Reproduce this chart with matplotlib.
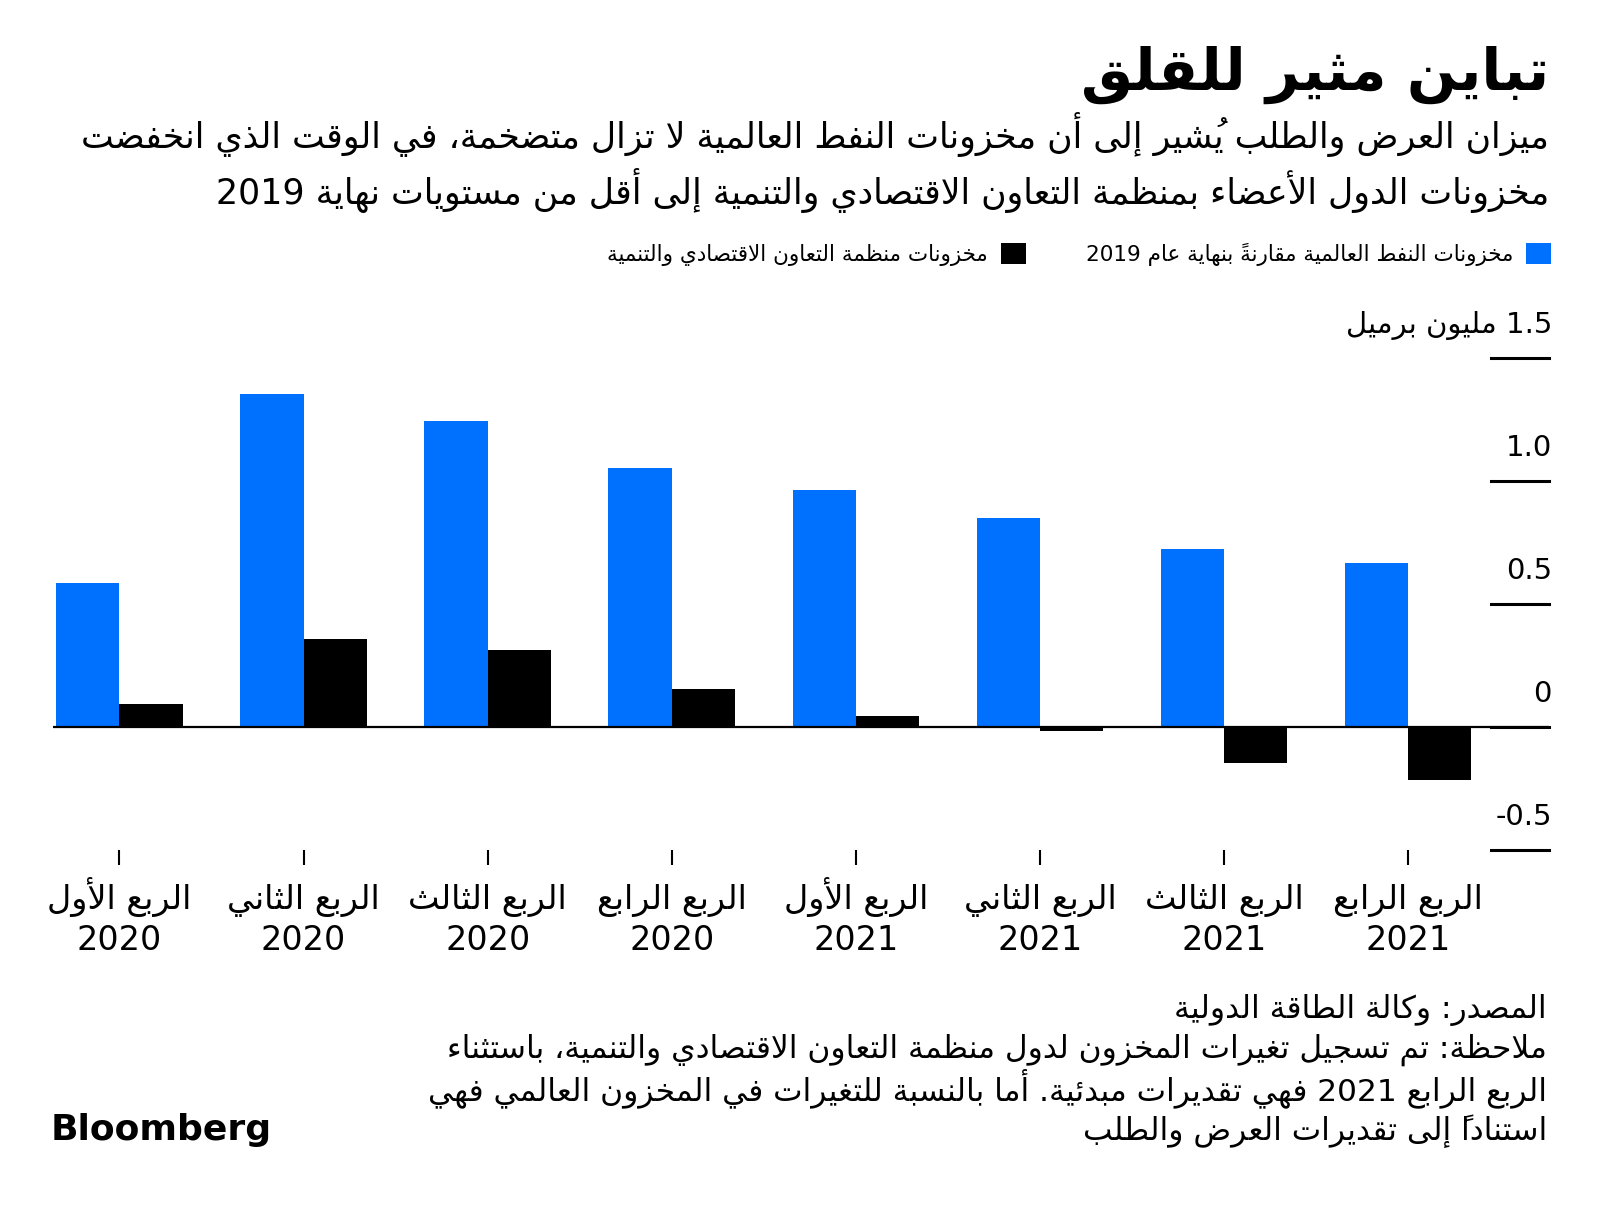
import matplotlib
matplotlib.use("Agg")
import matplotlib.pyplot as plt
import matplotlib.transforms as mtransforms

# ---- data (million barrels) ----
quarters = ["الربع الأول", "الربع الثاني", "الربع الثالث", "الربع الرابع",
            "الربع الأول", "الربع الثاني", "الربع الثالث", "الربع الرابع"]
years = ["2020", "2020", "2020", "2020", "2021", "2021", "2021", "2021"]
global_stocks = [0.585, 1.353, 1.245, 1.054, 0.963, 0.851, 0.722, 0.668]
oecd_stocks = [0.095, 0.357, 0.311, 0.154, 0.046, -0.017, -0.145, -0.216]
ytick_values = [-0.5, 0, 0.5, 1.0, 1.5]
ytick_labels = ["-0.5", "0", "0.5", "1.0", "1.5"]

title = "تباين مثير للقلق"
subtitle = ["ميزان العرض والطلب يُشير إلى أن مخزونات النفط العالمية لا تزال متضخمة، في الوقت الذي انخفضت",
            "مخزونات الدول الأعضاء بمنظمة التعاون الاقتصادي والتنمية إلى أقل من مستويات نهاية 2019"]
legend_global = "مخزونات النفط العالمية مقارنةً بنهاية عام 2019"
legend_oecd = "مخزونات منظمة التعاون الاقتصادي والتنمية"
unit_label = "1.5 مليون برميل"
notes = ["المصدر: وكالة الطاقة الدولية",
         "ملاحظة: تم تسجيل تغيرات المخزون لدول منظمة التعاون الاقتصادي والتنمية، باستثناء",
         "الربع الرابع 2021 فهي تقديرات مبدئية. أما بالنسبة للتغيرات في المخزون العالمي فهي",
         "استناداً إلى تقديرات العرض والطلب"]

BLUE = "#0070ff"

# ---- minimal arabic shaping + right-to-left ordering (matplotlib has none) ----
DUAL = {0x0626: 0xFE89, 0x0628: 0xFE8F, 0x062A: 0xFE95, 0x062B: 0xFE99, 0x062C: 0xFE9D,
        0x062D: 0xFEA1, 0x062E: 0xFEA5, 0x0633: 0xFEB1, 0x0634: 0xFEB5, 0x0635: 0xFEB9,
        0x0636: 0xFEBD, 0x0637: 0xFEC1, 0x0638: 0xFEC5, 0x0639: 0xFEC9, 0x063A: 0xFECD,
        0x0641: 0xFED1, 0x0642: 0xFED5, 0x0643: 0xFED9, 0x0644: 0xFEDD, 0x0645: 0xFEE1,
        0x0646: 0xFEE5, 0x0647: 0xFEE9, 0x064A: 0xFEF1}
RIGHT = {0x0622: 0xFE81, 0x0623: 0xFE83, 0x0624: 0xFE85, 0x0625: 0xFE87, 0x0627: 0xFE8D,
         0x0629: 0xFE93, 0x062F: 0xFEA9, 0x0630: 0xFEAB, 0x0631: 0xFEAD, 0x0632: 0xFEAF,
         0x0648: 0xFEED, 0x0649: 0xFEEF}
LAMALEF = {0x0622: 0xFEF5, 0x0623: 0xFEF7, 0x0625: 0xFEF9, 0x0627: 0xFEFB}


def is_mark(c):
    return 0x064B <= c <= 0x0652 or c == 0x0670


def ar_line(s):
    cps = [ord(ch) for ch in s]
    n = len(cps)

    def prev_base(i):
        j = i - 1
        while j >= 0 and is_mark(cps[j]):
            j -= 1
        return j

    def next_base(i):
        j = i + 1
        while j < n and is_mark(cps[j]):
            j += 1
        return j

    clusters = []  # [text, type]
    i = 0
    while i < n:
        c = cps[i]
        if is_mark(c):
            # zero-advance mark drawn right of pen -> goes before its base visually
            if clusters:
                clusters[-1][0] = chr(c) + clusters[-1][0]
            i += 1
            continue
        if c in DUAL or c in RIGHT:
            p = prev_base(i)
            pj = p >= 0 and cps[p] in DUAL
            nx = next_base(i)
            if c == 0x0644 and nx < n and cps[nx] in LAMALEF:
                clusters.append([chr(LAMALEF[cps[nx]] + (1 if pj else 0)), "R"])
                i = nx + 1
                continue
            nj = c in DUAL and nx < n and (cps[nx] in DUAL or cps[nx] in RIGHT)
            if c in DUAL:
                form = DUAL[c] + (3 if (pj and nj) else 2 if nj else 1 if pj else 0)
            else:
                form = RIGHT[c] + (1 if pj else 0)
            clusters.append([chr(form), "R"])
        elif c == 0x0621:
            clusters.append(["\uFE80", "R"])
        elif chr(c).isdigit() or (chr(c).isascii() and chr(c).isalpha()):
            clusters.append([chr(c), "L"])
        else:
            clusters.append([chr(c), "N"])
        i += 1
    # decimal point between digits stays inside the number
    for k in range(1, len(clusters) - 1):
        if clusters[k][0] == "." and clusters[k - 1][1] == "L" and clusters[k + 1][1] == "L":
            clusters[k][1] = "L"
    items = []
    for txt, typ in clusters:
        if typ == "L" and items and items[-1][1] == "L":
            items[-1][0] += txt
        else:
            items.append([txt, typ])
    return "".join(t for t, _ in reversed(items))


def ar(s):
    return "\n".join(ar_line(line) for line in s.split("\n"))


plt.rcParams['font.family'] = ['DejaVu Sans']

fig = plt.figure(figsize=(16, 12.08), dpi=100)
W, H = 1600, 1208
ax = fig.add_axes([53 / W, 1 - 850 / H, (1549 - 53) / W, (850 - 358) / H])

x = list(range(len(quarters)))
w = 0.344
ax.bar([i - w / 2 for i in x], global_stocks, width=w, color=BLUE, label=ar(legend_global), zorder=2)
ax.bar([i + w / 2 for i in x], oecd_stocks, width=w, color="black", label=ar(legend_oecd), zorder=2)

ax.set_xlim(-0.361, 7.765)
ax.set_ylim(-0.5, 1.5)
ax.axhline(0, color="black", lw=1.6, zorder=3)

for s in ax.spines.values():
    s.set_visible(False)

# y ticks on the right as short lines with labels sitting on top
ax.set_yticks([])
trans = mtransforms.blended_transform_factory(ax.transAxes, ax.transData)
for v, lab in zip(ytick_values, ytick_labels):
    ax.axhline(v, xmin=0.961, xmax=1.0, color="black", lw=2.2, zorder=3, clip_on=False)
    txt = ar(unit_label) if v == 1.5 else lab
    ax.text(1.002, v + 0.1, txt, transform=trans, ha="right", va="baseline",
            fontsize=21, color="black")

# x ticks: marks from the axis, two-line labels placed on fixed baselines
ax.set_xticks(x)
ax.set_xticklabels([])
ax.tick_params(axis="x", direction="out", length=11, width=1.5, color="black")
xtrans = mtransforms.blended_transform_factory(ax.transData, ax.transAxes)
for i, (q, yr) in enumerate(zip(quarters, years)):
    ax.text(i, (850 - 909) / 492, ar(q), transform=xtrans, ha="center", va="baseline", fontsize=24)
    ax.text(i, (850 - 950) / 492, yr, transform=xtrans, ha="center", va="baseline", fontsize=24)

# titles
fig.text(1549 / W, 1 - 90 / H, ar(title), ha="right", va="baseline",
         fontsize=42, fontweight="bold")
fig.text(1549 / W, 1 - 148 / H, ar(subtitle[0]), ha="right", va="baseline", fontsize=25)
fig.text(1549 / W, 1 - 204 / H, ar(subtitle[1]), ha="right", va="baseline", fontsize=25)

# legend, rtl: marker on the right, first series rightmost
h, l = ax.get_legend_handles_labels()
fig.legend(h[::-1], l[::-1], loc="center right", bbox_to_anchor=(1551 / W, 1 - 254 / H),
           ncol=2, frameon=False, markerfirst=False, fontsize=15.5,
           handlelength=1.15, handleheight=1.15, handletextpad=0.6, columnspacing=2.8,
           borderpad=0, borderaxespad=0)

# notes
for line, yb in zip(notes, [1018, 1058, 1100, 1140]):
    fig.text(1547 / W, 1 - yb / H, ar(line), ha="right", va="baseline", fontsize=22.5)

fig.text(51 / W, 1 - 1140 / H, "Bloomberg", ha="left", va="baseline",
         fontsize=26, fontweight="bold")

fig.savefig("out.png", dpi=100)
